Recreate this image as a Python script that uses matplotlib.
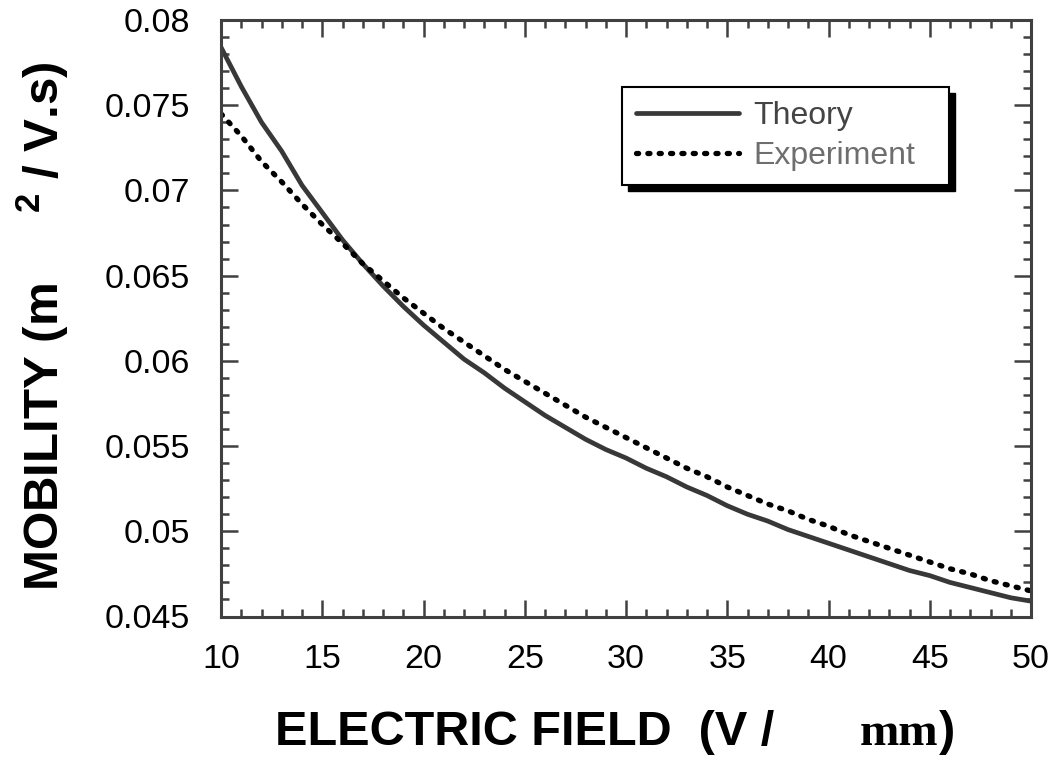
import matplotlib
matplotlib.use('Agg')
import matplotlib.pyplot as plt
from matplotlib.patches import Rectangle
from matplotlib.ticker import MultipleLocator
from matplotlib.transforms import IdentityTransform

# ---------------- data ----------------
field = list(range(10, 51))
theory = [0.0784, 0.0761, 0.0740, 0.0723, 0.0703, 0.0687, 0.0671, 0.0657, 0.0644, 0.0632,
          0.0621, 0.0611, 0.0601, 0.0593, 0.0584, 0.0576, 0.0568, 0.0561, 0.0554, 0.0548,
          0.0543, 0.0537, 0.0532, 0.0526, 0.0521, 0.0515, 0.0510, 0.0506, 0.0501, 0.0497,
          0.0493, 0.0489, 0.0485, 0.0481, 0.0477, 0.0474, 0.0470, 0.0467, 0.0464, 0.0461,
          0.0459]
experiment = [0.0745, 0.0732, 0.0717, 0.0705, 0.0692, 0.0680, 0.0669, 0.0657, 0.0647, 0.0637,
              0.0628, 0.0619, 0.0611, 0.0603, 0.0595, 0.0588, 0.0581, 0.0574, 0.0567, 0.0561,
              0.0555, 0.0549, 0.0543, 0.0537, 0.0532, 0.0526, 0.0521, 0.0516, 0.0512, 0.0507,
              0.0503, 0.0498, 0.0494, 0.0490, 0.0486, 0.0482, 0.0478, 0.0475, 0.0471, 0.0468,
              0.0465]
series_labels = ['Theory', 'Experiment']
xticks = [10, 15, 20, 25, 30, 35, 40, 45, 50]
xtick_labels = ['10', '15', '20', '25', '30', '35', '40', '45', '50']
yticks = [0.045, 0.05, 0.055, 0.06, 0.065, 0.07, 0.075, 0.08]
ytick_labels = ['0.045', '0.05', '0.055', '0.06', '0.065', '0.07', '0.075', '0.08']

# ---------------- style ----------------
plt.rcParams['font.family'] = ['Liberation Sans', 'DejaVu Sans']
plt.rcParams['mathtext.fontset'] = 'custom'
plt.rcParams['mathtext.bf'] = 'Liberation Sans:bold'
plt.rcParams['mathtext.rm'] = 'Liberation Sans'

W, H = 1051, 758
fig = plt.figure(figsize=(W / 100, H / 100), dpi=100)
ax = fig.add_axes([221 / W, 1 - 616.5 / H, (1031 - 221) / W, (616.5 - 20) / H])

axis_col = '#404040'
l1, = ax.plot(field, theory, color='#383838', lw=3.4, solid_joinstyle='round',
              solid_capstyle='round', label=series_labels[0])
l2, = ax.plot(field, experiment, color='black', lw=3.8, linestyle=(0, (0.4, 1.75)),
              dash_capstyle='round', label=series_labels[1])

ax.set_xlim(10, 50)
ax.set_ylim(0.045, 0.08)
ax.set_xticks(xticks)
ax.set_xticklabels(xtick_labels)
ax.set_yticks(yticks)
ax.set_yticklabels(ytick_labels)
ax.xaxis.set_minor_locator(MultipleLocator(1))
ax.yaxis.set_minor_locator(MultipleLocator(0.001))
ax.tick_params(which='both', direction='in', top=True, right=True, color=axis_col, width=1.8)
ax.tick_params(which='major', length=12)
ax.tick_params(which='minor', length=6)
ax.tick_params(axis='x', which='major', labelsize=24.5, pad=20)
ax.tick_params(axis='y', which='major', labelsize=24.5, pad=22)
for sp in ax.spines.values():
    sp.set_color(axis_col)
    sp.set_linewidth(2.2)

# y label
ax.set_ylabel(r'MOBILITY (m     ${}^{\mathbf{2}}$ / V.s)', fontsize=35.5, fontweight='bold',
              labelpad=24)
ax.yaxis.label.set_y(0.486)

# x label composed of pieces (serif "mm")
ybase = 1 - 745 / H
fig.text(275 / W, ybase, 'ELECTRIC FIELD  (V /', fontsize=35, fontweight='bold',
         va='baseline', ha='left')
t_mm = fig.text(860 / W, ybase, 'mm', fontsize=34, fontweight='bold', family='Liberation Serif',
                va='baseline', ha='left')

# legend
leg = ax.legend(handles=[l1, l2], loc='upper left',
                bbox_to_anchor=(622 / W, 1 - 87 / H), bbox_transform=fig.transFigure,
                borderaxespad=0, fontsize=23, handlelength=3.2, handletextpad=0.45,
                borderpad=0.45, labelspacing=0.3, fancybox=False, framealpha=1,
                edgecolor='black')
leg.get_frame().set_visible(False)
leg.get_texts()[0].set_color('#444444')
leg.get_texts()[1].set_color('#6e6e6e')

fig.canvas.draw()
r = fig.canvas.get_renderer()
mm_bb = t_mm.get_window_extent(r)
fig.text(mm_bb.x1 / W, ybase, ')', fontsize=35, fontweight='bold', va='baseline', ha='left')

bb = leg.get_frame().get_window_extent(r)
box_w = (949 - 622)
box_h = bb.height
frame = Rectangle((bb.x0, bb.y0), box_w, box_h, transform=IdentityTransform(),
                  facecolor='white', edgecolor='black', linewidth=1.5, zorder=4.95,
                  clip_on=False)
shadow = Rectangle((bb.x0 + 6, bb.y0 - 6), box_w, box_h, transform=IdentityTransform(),
                   facecolor='black', edgecolor='black', zorder=4.9, clip_on=False)
ax.add_artist(shadow)
ax.add_artist(frame)

fig.savefig('out.png', dpi=100)
